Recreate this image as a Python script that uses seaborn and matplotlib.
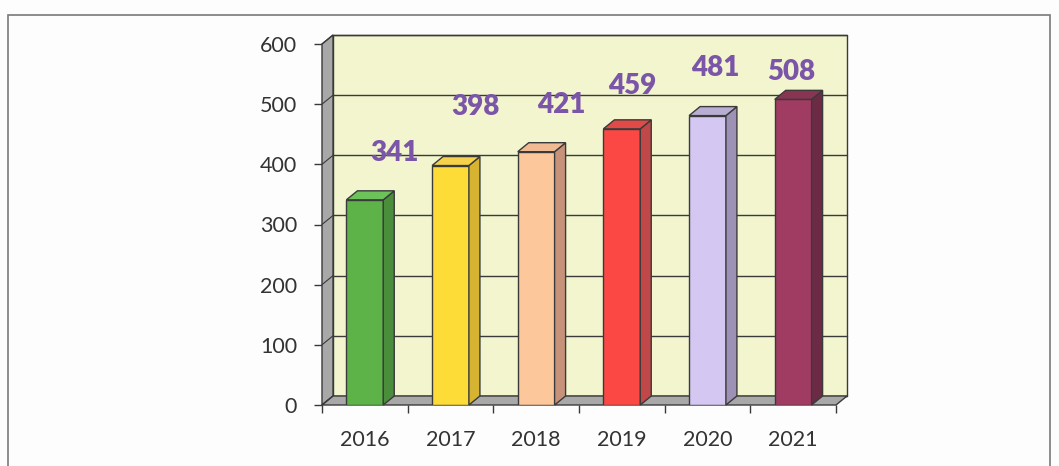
import matplotlib
matplotlib.use("Agg")
import matplotlib.pyplot as plt
import seaborn as sns
import numpy as np
from matplotlib.patches import Polygon, Rectangle

# data
years = ["2016", "2017", "2018", "2019", "2020", "2021"]
values = [341, 398, 421, 459, 481, 508]
front_colors = ["#5db347", "#fddc38", "#fbc79b", "#fc4844", "#d4c8f2", "#a03c62"]
side_colors = ["#4a8d3a", "#d6b431", "#c6937a", "#c04848", "#9d92b6", "#6d2a44"]
top_colors = ["#6cc359", "#f5d24a", "#f0bb92", "#e24a48", "#b8aed4", "#8a3454"]
y_ticks = [0, 100, 200, 300, 400, 500, 600]
# label offsets (pixels) from the top of each bar, as placed in the original
label_dx = [30, 25, 25, 10, 8, -2]
label_dy = [47, 59, 47, 43, 48, 27]

sns.set_theme(style="white")
plt.rcParams["font.family"] = ["Lato", "DejaVu Sans"]

fig = plt.figure(figsize=(10.59, 4.66), dpi=100, facecolor="#fdfdfd")
ax = fig.add_axes([322 / 1059, 61 / 466, 514 / 1059, 361 / 466])
ax.set_facecolor("none")

ymax = 600
px_x = 6 / 514      # categories per pixel
px_y = ymax / 361   # data units per pixel
dx = 11 * px_x
dy = 9 * px_y
edge = "#3a3a3a"
wall = "#a8a8a8"
back = "#f2f5cd"
x0, x1 = -0.5, 5.5

sns.barplot(x=years, y=values, hue=years, palette=front_colors, legend=False, saturation=1,
            width=0.43, edgecolor=edge, linewidth=1, ax=ax, zorder=3)
bars = [p for p in ax.patches if isinstance(p, Rectangle)]
ax.set_xlim(x0, x1)
ax.set_ylim(0, ymax)

# back wall
ax.add_patch(Polygon([(x0 + dx, dy), (x1 + dx, dy), (x1 + dx, ymax + dy), (x0 + dx, ymax + dy)],
                     closed=True, facecolor=back, edgecolor=edge, lw=1, zorder=0, clip_on=False))
for t in y_ticks:
    ax.plot([x0 + dx, x1 + dx], [t + dy, t + dy], color=edge, lw=1, zorder=1, clip_on=False)
# left wall
ax.add_patch(Polygon([(x0, 0), (x0 + dx, dy), (x0 + dx, ymax + dy), (x0, ymax)],
                     closed=True, facecolor=wall, edgecolor=edge, lw=1, zorder=1.5, clip_on=False))
for t in y_ticks:
    ax.plot([x0, x0 + dx], [t, t + dy], color=edge, lw=0.8, zorder=1.6, clip_on=False)
# floor
ax.add_patch(Polygon([(x0, 0), (x1, 0), (x1 + dx, dy), (x0 + dx, dy)],
                     closed=True, facecolor=wall, edgecolor=edge, lw=1, zorder=1.5, clip_on=False))

for i, p in enumerate(bars):
    bx0 = p.get_x()
    bx1 = bx0 + p.get_width()
    h = p.get_height()
    ax.add_patch(Polygon([(bx1, 0), (bx1 + dx, dy), (bx1 + dx, h + dy), (bx1, h)], closed=True,
                         facecolor=side_colors[i], edgecolor=edge, lw=1, zorder=3, clip_on=False))
    ax.add_patch(Polygon([(bx0, h), (bx0 + dx, h + dy), (bx1 + dx, h + dy), (bx1, h)], closed=True,
                         facecolor=top_colors[i], edgecolor=edge, lw=1, zorder=3, clip_on=False))
    ax.annotate(str(values[i]), (bx0 + p.get_width() / 2, h),
                xytext=(label_dx[i], label_dy[i]), textcoords="offset pixels",
                ha="center", va="center", fontsize=20, fontweight="heavy",
                color="#7b55a8", zorder=5, annotation_clip=False)

for s in ax.spines.values():
    s.set_visible(False)

ax.set_yticks(y_ticks)
ax.set_yticklabels([str(t) for t in y_ticks], fontsize=15.5, color="#333333")
ax.set_xticks(range(len(years)))
ax.set_xticklabels(years, fontsize=15.5, color="#333333")
ax.set_xticks(np.arange(-0.5, 6, 1), minor=True)
ax.tick_params(axis="y", which="major", left=True, length=6, width=1, color=edge, pad=12)
ax.tick_params(axis="x", which="major", bottom=False, length=0, pad=18)
ax.tick_params(axis="x", which="minor", bottom=True, length=6, width=1, color=edge)
ax.set_xlabel("")
ax.set_ylabel("")

# outer frame
fig.patches.append(Rectangle((8 / 1059, -0.01), 1042 / 1059, 456 / 466, transform=fig.transFigure,
                             facecolor="none", edgecolor="#7a7a7a", lw=1.2))

fig.savefig("out.png", dpi=100, facecolor=fig.get_facecolor())
